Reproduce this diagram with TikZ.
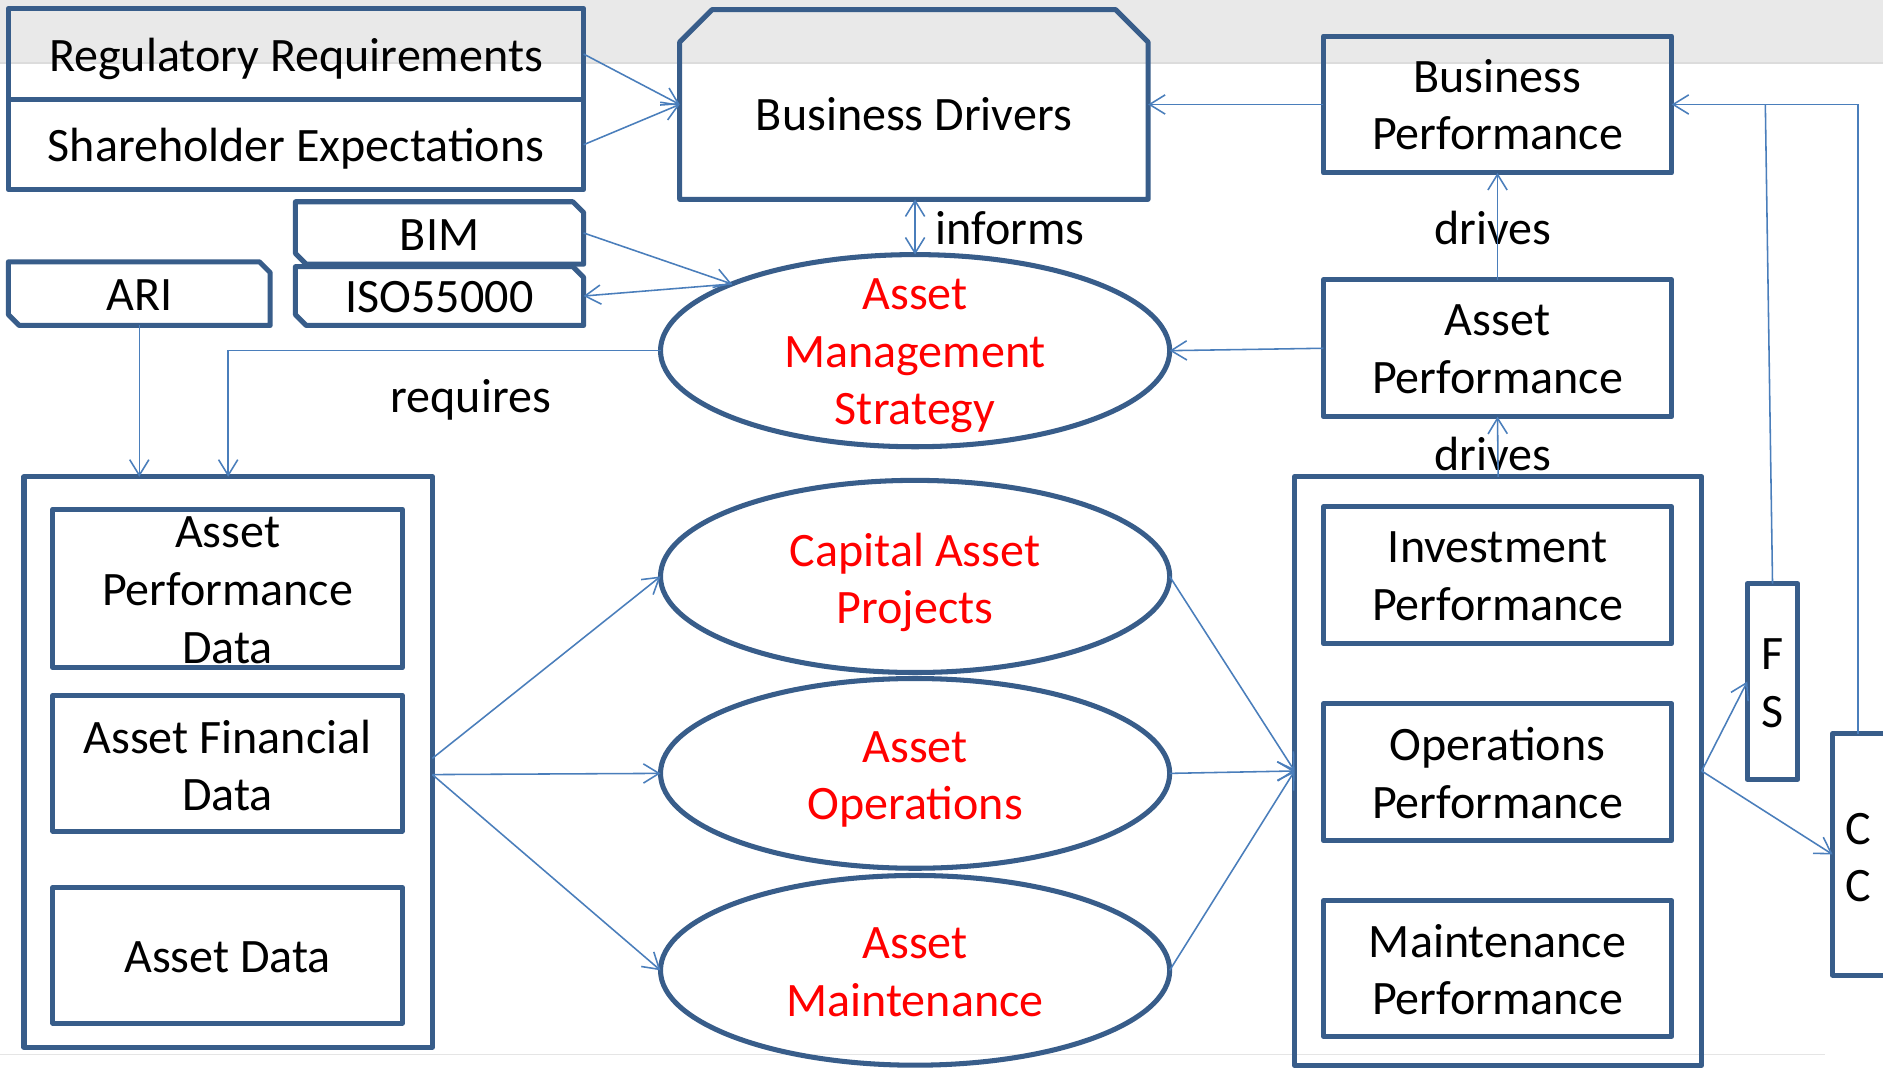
\documentclass[tikz,border=0pt]{standalone}
\usepackage{fontspec}
\setmainfont{Carlito}
\usetikzlibrary{shapes.geometric,arrows.meta}
\definecolor{bord}{HTML}{385D8A}
\definecolor{conn}{HTML}{4A7EBB}
\definecolor{band}{HTML}{E9E9E9}
\definecolor{bandline}{HTML}{DCDCDC}
\definecolor{txtred}{HTML}{FF0000}
\begin{document}
\begin{tikzpicture}[x=1pt,y=-1pt,
  border/.style={draw=bord,line width=4.2pt,line join=round},
  boxnode/.style={border,rectangle,inner sep=0pt,outer sep=0pt},
  ghost/.style={rectangle,inner sep=0pt,outer sep=0pt},
  ell/.style={border,ellipse,inner sep=0pt,outer sep=0pt,minimum width=424pt,minimum height=160pt},
  lbl/.style={font=\fontsize{40}{48}\selectfont,align=center,inner sep=0pt,text=black},
  redlbl/.style={lbl,text=txtred},
  link/.style={draw=conn,line width=1.3pt,-{Straight Barb[length=13pt,width=16pt]}},
  dlink/.style={draw=conn,line width=1.3pt,{Straight Barb[length=13pt,width=16pt]}-{Straight Barb[length=13pt,width=16pt]}},
  plain/.style={draw=conn,line width=1.3pt},
]
\useasboundingbox (0,0) rectangle (1568,889);
\clip (0,0) rectangle (1568,889);
% background
\fill[white] (0,0) rectangle (1568,889);
\fill[band] (0,0) rectangle (1568,52);
\draw[bandline,line width=1.2pt] (0,52.5) -- (1568,52.5);
\draw[black!10,line width=1pt] (0,878) -- (1520,878);

% top-left boxes
\node[boxnode,minimum width=479pt,minimum height=76pt] (reg) at (246.5,45) {};
\node[boxnode,minimum width=479pt,minimum height=75pt] (sh) at (246.5,120.5) {};
\node[lbl] (reg-t) at (246.5,49) {Regulatory Requirements};
\node[lbl] (sh-t) at (246.5,124) {Shareholder Expectations};

% Business Drivers (top corners snipped)
\node[ghost,minimum width=390pt,minimum height=158pt] (bd) at (761,87) {};
\draw[border] ([xshift=27pt]bd.north west) -- ([xshift=-27pt]bd.north east) -- ([yshift=-27pt]bd.north east) -- (bd.south east) -- (bd.south west) -- ([yshift=-27pt]bd.north west) -- cycle;
\node[lbl] (bd-t) at (761,95) {Business Drivers};

% Business Performance
\node[boxnode,minimum width=290pt,minimum height=114pt] (bp) at (1247,87) {};
\node[lbl] (bp-t) at (1247,87) {Business\\Performance};

% snipped small boxes
\node[ghost,minimum width=240pt,minimum height=52pt] (bim) at (366,194) {};
\node[ghost,minimum width=240pt,minimum height=49pt] (iso) at (366,246.5) {};
\node[ghost,minimum width=218pt,minimum height=53pt] (ari) at (116,244.5) {};
\foreach \n in {bim,iso,ari}{
  \draw[border] (\n.north west) -- ([xshift=-9pt]\n.north east) -- ([yshift=-9pt]\n.north east) -- (\n.south east) -- ([xshift=9pt]\n.south west) -- ([yshift=9pt]\n.south west) -- cycle;
}
\node[lbl] (bim-t) at (366,196) {BIM};
\node[lbl] (iso-t) at (366,247.5) {ISO55000};
\node[lbl] (ari-t) at (116,245.5) {ARI};

% Asset Management Strategy
\node[ell] (ams) at (762,292) {};
\node[redlbl] (ams-t) at (762,296.5) {Asset\\Management\\Strategy};

% Asset Performance
\node[boxnode,minimum width=290pt,minimum height=114pt] (ap) at (1247,290) {};
\node[lbl] (ap-t) at (1247,291) {Asset\\Performance};

% left data box
\node[boxnode,minimum width=340pt,minimum height=475pt] (left) at (190,634.5) {};
\node[boxnode,minimum width=291pt,minimum height=132pt] (apd) at (189.5,490) {};
\node[boxnode,minimum width=291pt,minimum height=113pt] (afd) at (189.5,635.5) {};
\node[boxnode,minimum width=291pt,minimum height=113pt] (ad) at (189.5,795.5) {};
\node[lbl] (apd-t) at (189.5,491.5) {Asset\\Performance\\Data};
\node[lbl] (afd-t) at (189.5,637.5) {Asset Financial\\Data};
\node[lbl] (ad-t) at (189.5,797) {Asset Data};

% process ellipses
\node[ell] (cap) at (762,480) {};
\node[ell,minimum height=158pt] (ao) at (762,644) {};
\node[ell,minimum height=158pt] (am) at (762,808) {};
\node[redlbl] (cap-t) at (762,485) {Capital Asset\\Projects};
\node[redlbl] (ao-t) at (762,649) {Asset\\Operations};
\node[redlbl] (am-t) at (762,809.5) {Asset\\Maintenance};

% right performance box
\node[boxnode,minimum width=339pt,minimum height=490pt] (right) at (1247.5,642) {};
\node[boxnode,minimum width=290pt,minimum height=114pt] (ip) at (1247,479) {};
\node[boxnode,minimum width=290pt,minimum height=114pt] (op) at (1247,643) {};
\node[boxnode,minimum width=290pt,minimum height=113pt] (mp) at (1247,806.5) {};
\node[lbl] (ip-t) at (1247,480) {Investment\\Performance};
\node[lbl] (op-t) at (1247,643.5) {Operations\\Performance};
\node[lbl] (mp-t) at (1247,807.5) {Maintenance\\Performance};

% FS and CC
\node[boxnode,minimum width=42pt,minimum height=163pt] (fs) at (1476,567.5) {};
\node[boxnode,minimum width=45pt,minimum height=201pt] (cc) at (1548.5,711.5) {};
\node[lbl] (fs-t) at (1476,569) {F\\S};
\node[lbl] (cc-t) at (1547,714) {C\\C};

% labels
\node[lbl,anchor=west] (informs) at (779,190) {informs};
\node[lbl] (drives1) at (1243,190) {drives};
\node[lbl] (drives2) at (1243,378) {drives};
\node[lbl] (requires) at (392,333) {requires};

% connectors
\draw[link] (reg.east) -- (bd.west);
\draw[link] (sh.east) -- (bd.west);
\draw[link] (bp.west) -- (bd.east);
\draw[link] (bim.east) -- (ams.160);
\draw[link] (ams.160) -- (iso.east);
\draw[link] (ari.south) -- (ari.south |- left.north);
\draw[link] (ams.west) -| (left.north);
\draw[link] (ap.west) -- (ams.east);
\draw[dlink] (ams.north |- bd.south) -- (ams.north);
\draw[link] (ap.north) -- (bp.south);
\draw[link] (right.north) -- (ap.south);
\draw[link] ([yshift=3pt]left.east) -- (cap.west);
\draw[link] ([yshift=-10.5pt]left.east) -- (ao.west);
\draw[link] ([yshift=-10.5pt]left.east) -- (am.west);
\draw[link] (cap.east) -- (right.west);
\draw[link] (ao.east) -- (right.west);
\draw[link] (am.east) -- (right.west);
\draw[link] (right.east) -- (fs.west);
\draw[link] (right.east) -- (cc.west);
\coordinate (fsj) at (1470,87);
\draw[plain] (fs.north) -- (fsj);
\draw[link] ([xshift=-1.5pt]cc.north) |- (bp.east);
\end{tikzpicture}
\end{document}
